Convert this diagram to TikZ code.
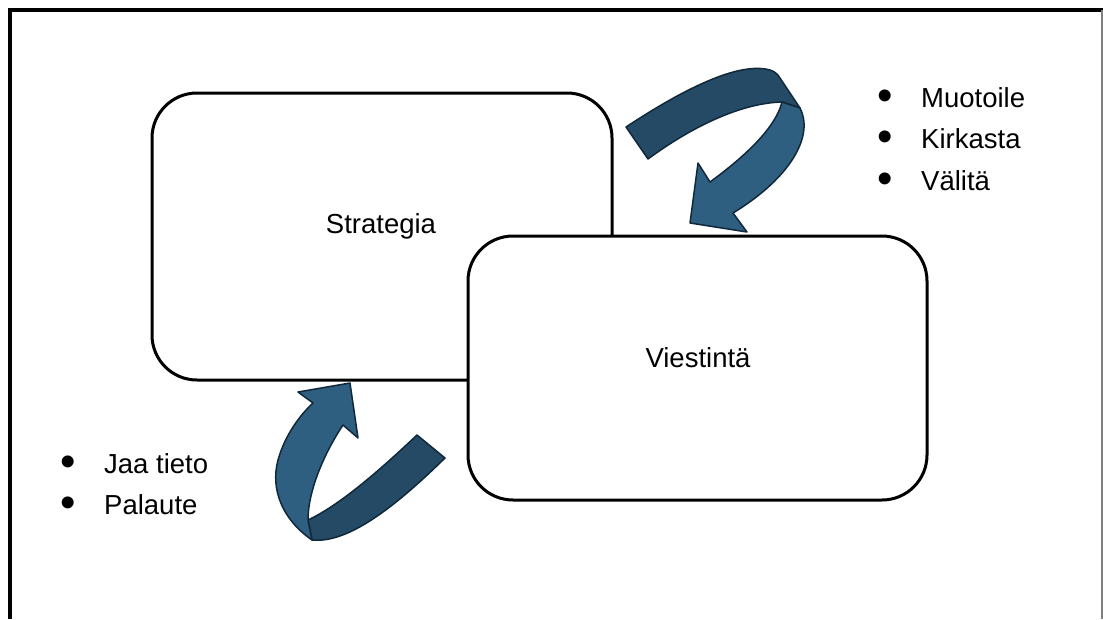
\documentclass[tikz,border=0pt]{standalone}
\usepackage{fontspec}
\setmainfont{Liberation Sans}
\definecolor{bandback}{HTML}{254A65}
\definecolor{bandfront}{HTML}{2E5F80}
\definecolor{bandline}{HTML}{10283A}
\tikzset{
  roundbox/.style={draw, line width=3pt, fill=white, rounded corners=45pt, inner sep=0pt},
  boxlbl/.style={font=\fontsize{27.5}{33}\selectfont},
  listitem/.style={anchor=base west, inner sep=0pt, font=\fontsize{27.5}{33}\selectfont},
  bandb/.style={fill=bandback, draw=bandline, line width=1.5pt, line join=round},
  bandf/.style={fill=bandfront, draw=bandline, line width=1.5pt, line join=round}
}
\newcommand{\bitem}[1]{\makebox[44pt][l]{\raisebox{-3.5pt}{\scalebox{1.6}{•}}}#1}
\begin{document}
\begin{tikzpicture}[x=1pt,y=-1pt]
                \useasboundingbox (0,0) rectangle (1103,619);
                \draw[line width=4pt] (10,619)--(10,10)--(1103,10);
                \draw[gray, line width=1.5pt] (1102,10)--(1102,619);
                % boxes
                \node[roundbox, minimum width=460pt, minimum height=287pt] (strat) at (382,236.5) {};
                \node[boxlbl] (stratlbl) at (381,226) {Strategia};
                \node[roundbox, minimum width=459pt, minimum height=264pt] (viest) at (697.5,368) {};
                \node[boxlbl] (viestlbl) at (698,358) {Viestintä};
                % upper arrow
                \draw[bandb] (626,127) .. controls (670,98) and (735,60) .. (770,70) .. controls (776,72) and (778,75) .. (780,78)
                    -- (800,108) -- (782,102) .. controls (740,103) and (690,128) .. (648,159) -- cycle;
                \draw[bandf] (782,102) -- (800,108) .. controls (814,135) and (792,177) .. (733,213) -- (747,232)
                    -- (690,223) -- (698,163) -- (710,182) .. controls (740,160) and (775,130) .. (782,102) -- cycle;
                % lower arrow
                \draw[bandb] (417,435) -- (445,458) .. controls (400,502) and (350,544) .. (312,540) -- (308,520)
                    .. controls (340,505) and (380,470) .. (417,435) -- cycle;
                \draw[bandf] (312,540) .. controls (283,520) and (270,490) .. (278,460) .. controls (285,435) and (300,415) .. (313,403)
                    -- (298,392) -- (350,383) -- (358,438) -- (343,425) .. controls (325,452) and (308,490) .. (308,520) -- cycle;
                % lists
                \node[listitem] (muo) at (877,107) {\bitem{Muotoile}};
                \node[listitem] (kir) at (877,148) {\bitem{Kirkasta}};
                \node[listitem] (val) at (877,190) {\bitem{Välitä}};
                \node[listitem] (jaa) at (60,473) {\bitem{Jaa tieto}};
                \node[listitem] (pal) at (60,514) {\bitem{Palaute}};
\end{tikzpicture}
\end{document}
